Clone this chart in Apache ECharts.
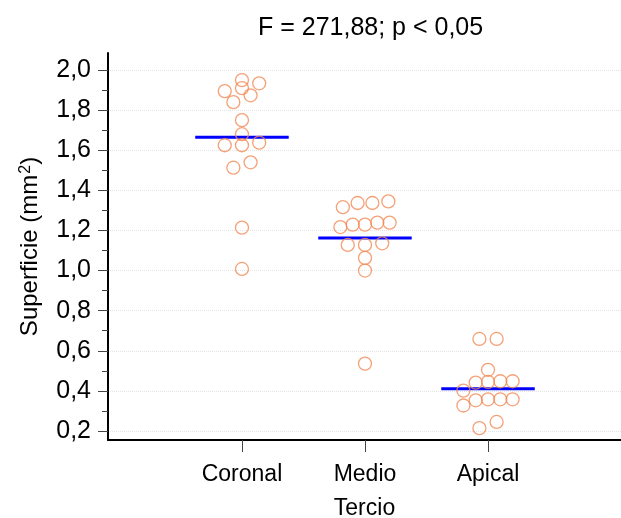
<!DOCTYPE html>
<html>
<head>
<meta charset="utf-8">
<script src="https://cdn.jsdelivr.net/npm/echarts@6/dist/echarts.min.js"></script>
<style>
  html, body { margin: 0; padding: 0; background: #fff; }
  #main { width: 621px; height: 518px; }
</style>
</head>
<body>
<div id="main"></div>
<script>
// categorias del eje x
var categories = ['Coronal', 'Medio', 'Apical'];

// superficie (mm2) de cada punto
var coronal = [1.95, 1.91, 1.934, 1.895, 1.874, 1.84, 1.75, 1.68, 1.625, 1.625, 1.638, 1.54, 1.513, 1.214, 1.008];
var medio = [1.316, 1.337, 1.337, 1.345, 1.217, 1.229, 1.229, 1.239, 1.239, 1.128, 1.128, 1.136, 1.063, 1.0, 0.536];
var apical = [0.659, 0.659, 0.505, 0.441, 0.445, 0.448, 0.448, 0.401, 0.327, 0.353, 0.358, 0.358, 0.358, 0.245, 0.214];

// desplazamiento horizontal (jitter) de cada punto, en unidades de categoria
var coronalJitter = [0, 0, 0.14, -0.14, 0.07, -0.07, 0, 0, -0.14, 0, 0.14, 0.07, -0.07, 0, 0];
var medioJitter = [-0.18, -0.06, 0.06, 0.19, -0.2, -0.1, 0, 0.1, 0.2, -0.14, 0, 0.14, 0, 0, 0];
var apicalJitter = [-0.07, 0.07, 0, -0.1, 0, 0.1, 0.2, -0.2, -0.2, -0.1, 0, 0.1, 0.2, 0.07, -0.07];

// medias (lineas azules)
var means = [1.665, 1.163, 0.411];

// marcas del eje y
var yTicks = [0.2, 0.4, 0.6, 0.8, 1.0, 1.2, 1.4, 1.6, 1.8, 2.0];
var yMinorTicks = [0.3, 0.5, 0.7, 0.9, 1.1, 1.3, 1.5, 1.7, 1.9];

var myChart = echarts.init(document.getElementById('main'));

var groups = [coronal, medio, apical];
var jitters = [coronalJitter, medioJitter, apicalJitter];
var points = [];
groups.forEach(function (vals, i) {
  vals.forEach(function (v, j) {
    points.push([i + 1 + jitters[i][j], v]);
  });
});

var series = [];
// lineas de media
means.forEach(function (m, i) {
  series.push({
    type: 'line',
    data: [[i + 1 - 0.38, m], [i + 1 + 0.38, m]],
    symbol: 'none',
    silent: true,
    z: 2,
    lineStyle: { color: '#0000ff', width: 3 }
  });
});
series.push({
  type: 'scatter',
  data: points,
  symbol: 'circle',
  symbolSize: 13,
  z: 3,
  itemStyle: {
    color: 'rgba(0,0,0,0)',
    borderColor: '#f28a55',
    borderWidth: 1.3
  }
});

var fontFamily = '"Liberation Sans", Arial, sans-serif';

var option = {
  animation: false,
  textStyle: { fontFamily: fontFamily },
  title: {
    text: 'F = 271,88; p < 0,05',
    left: 253,
    top: 11,
    textStyle: { fontSize: 25, fontWeight: 'normal', color: '#000', fontFamily: fontFamily }
  },
  grid: { left: 108, right: 0, top: 53, bottom: 78, containLabel: false, outerBoundsMode: 'none' },
  xAxis: {
    type: 'value',
    min: -0.089,
    max: 4.081,
    name: 'Tercio',
    nameLocation: 'middle',
    nameGap: 57,
    nameTextStyle: { fontSize: 23, color: '#000', fontFamily: fontFamily },
    axisLine: { show: true, onZero: false, lineStyle: { color: '#000', width: 2 } },
    axisTick: { show: true, customValues: [1, 2, 3], length: 12, lineStyle: { color: '#444', width: 1 } },
    axisLabel: {
      customValues: [1, 2, 3],
      margin: 23,
      fontSize: 23,
      color: '#000',
      formatter: function (v) { return categories[Math.round(v) - 1]; }
    },
    splitLine: { show: false }
  },
  yAxis: [{
    // solo marcas menores
    type: 'value',
    position: 'left',
    min: 0.155,
    max: 2.085,
    axisLine: { show: false, onZero: false },
    axisTick: { show: true, customValues: yMinorTicks, length: 6, lineStyle: { color: '#444', width: 1 } },
    axisLabel: { show: false },
    splitLine: { show: false }
  }, {
    type: 'value',
    position: 'left',
    min: 0.155,
    max: 2.085,
    name: 'Superficie (mm{sup|2})',
    nameLocation: 'middle',
    nameGap: 66,
    nameTextStyle: {
      fontSize: 24,
      color: '#000',
      fontFamily: fontFamily,
      rich: {
        sup: { fontSize: 16, verticalAlign: 'top', color: '#000', fontFamily: fontFamily, padding: [0, 0, 8, 1] }
      }
    },
    axisLine: { show: true, onZero: false, lineStyle: { color: '#000', width: 2 } },
    axisTick: { show: true, customValues: yTicks, length: 10, lineStyle: { color: '#444', width: 1 } },
    axisLabel: {
      customValues: yTicks,
      margin: 17,
      fontSize: 25,
      color: '#000',
      formatter: function (v) { return v.toFixed(1).replace('.', ','); }
    },
    splitLine: { show: true, lineStyle: { color: '#e4e4e4', type: 'dotted', width: 1 } }
  }],
  series: series
};

myChart.setOption(option);
</script>
</body>
</html>
